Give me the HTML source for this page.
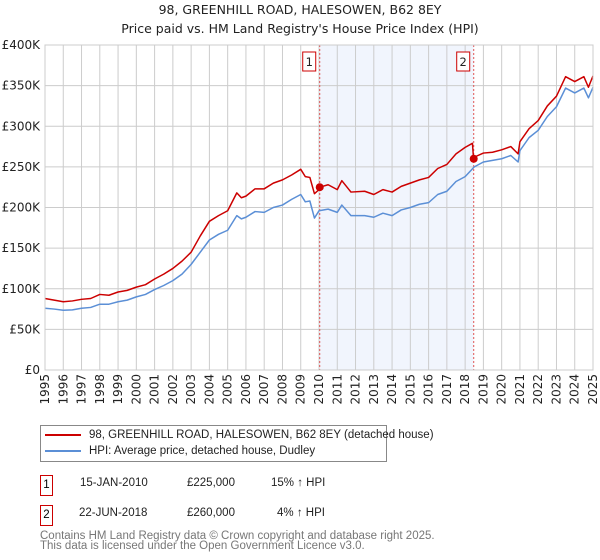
<!DOCTYPE html>
<html><head><meta charset="utf-8"><style>
body{margin:0;background:#fff;font-family:"Liberation Sans",sans-serif;}
#wrap{position:relative;width:600px;height:560px;overflow:hidden;}
.t{position:absolute;font-size:12px;color:#222;white-space:nowrap;font-family:"Liberation Sans",sans-serif;}
</style></head><body>
<div id="wrap">
<svg id="chart" width="600" height="420" style="position:absolute;left:0;top:0"></svg>
<div style="position:absolute;left:40px;top:425px;width:345px;height:35px;border:1px solid #888;">
 <div style="position:absolute;left:4px;top:3px;font-size:11.5px;color:#222;white-space:nowrap;font-family:'Liberation Sans',sans-serif"><span style="display:inline-block;width:36px;height:2px;background:#cc0000;vertical-align:middle;margin-right:8px"></span>98, GREENHILL ROAD, HALESOWEN, B62 8EY (detached house)</div>
 <div style="position:absolute;left:4px;top:19px;font-size:11.5px;color:#222;white-space:nowrap;font-family:'Liberation Sans',sans-serif"><span style="display:inline-block;width:36px;height:2px;background:#5b8fd6;vertical-align:middle;margin-right:8px"></span>HPI: Average price, detached house, Dudley</div>
</div>
<div style="position:absolute;left:40px;top:475px;width:11px;height:19px;border:1px solid #cc0000;font-size:11.5px;line-height:19px;text-align:center">1</div>
<div class="t" style="left:80px;top:477px;font-size:11.5px">15-JAN-2010</div>
<div class="t" style="left:187px;top:477px;font-size:11.5px">£225,000</div>
<div class="t" style="left:271px;top:477px;font-size:11.5px">15% ↑ HPI</div>
<div style="position:absolute;left:40px;top:505px;width:11px;height:19px;border:1px solid #cc0000;font-size:11.5px;line-height:19px;text-align:center">2</div>
<div class="t" style="left:79px;top:507px;font-size:11.5px">22-JUN-2018</div>
<div class="t" style="left:187px;top:507px;font-size:11.5px">£260,000</div>
<div class="t" style="left:277px;top:507px;font-size:11.5px">4% ↑ HPI</div>
<div class="t" style="left:40px;top:531px;color:#777;font-size:11.5px;line-height:10px">Contains HM Land Registry data © Crown copyright and database right 2025.<br>This data is licensed under the Open Government Licence v3.0.</div>
</div>
<script>
const years=[1995,1996,1997,1998,1999,2000,2001,2002,2003,2004,2005,2006,2007,2008,2009,2010,2011,2012,2013,2014,2015,2016,2017,2018,2019,2020,2021,2022,2023,2024,2025];
const yTicks=[0,50,100,150,200,250,300,350,400];
const yTickLabels=["£0","£50K","£100K","£150K","£200K","£250K","£300K","£350K","£400K"];
const hpiT=[1995,1995.5,1996,1996.5,1997,1997.5,1998,1998.5,1999,1999.5,2000,2000.5,2001,2001.5,2002,2002.5,2003,2003.5,2004,2004.5,2005,2005.5,2005.75,2006,2006.5,2007,2007.5,2008,2008.5,2009,2009.25,2009.5,2009.75,2010,2010.5,2011,2011.25,2011.75,2012.5,2013,2013.5,2014,2014.5,2015,2015.5,2016,2016.5,2017,2017.5,2018,2018.5,2019,2019.5,2020,2020.5,2020.9,2021,2021.5,2022,2022.5,2023,2023.5,2024,2024.5,2024.75,2025];
const hpiV=[76,75,73.5,74,76,77,81,81,84,86,90,93,99,104,110,118,130,145,160,167,172,190,186,188,195,194,200,203,210,216,207,208,187,196,198,194,203,190,190,188,193,190,197,200,204,206,216,220,232,238,250,256,258,260,264,256,270,286,295,312,324,347,341,347,335,348];
const ppT=[1995,1995.5,1996,1996.5,1997,1997.5,1998,1998.5,1999,1999.5,2000,2000.5,2001,2001.5,2002,2002.5,2003,2003.5,2004,2004.5,2005,2005.5,2005.75,2006,2006.5,2007,2007.5,2008,2008.5,2009,2009.25,2009.5,2009.75,2010,2010.04,2010.5,2011,2011.25,2011.75,2012.5,2013,2013.5,2014,2014.5,2015,2015.5,2016,2016.5,2017,2017.5,2018,2018.4,2018.46,2018.5,2019,2019.5,2020,2020.5,2020.9,2021,2021.5,2022,2022.5,2023,2023.5,2024,2024.5,2024.75,2025];
const ppV=[88,86,84,85,87,88,93,92,96,98,102,105,112,118,125,134,145,165,183,190,196,218,212,214,223,223,230,234,240,247,238,237,217,222,225,228,222,233,219,220,216,222,219,226,230,234,237,248,253,266,274,279,260,262,267,268,271,275,266,281,297,307,325,337,361,355,361,348,362];
const saleT=[2010.04,2018.47];
const saleV=[225,260];
const saleLabels=["1","2"];

const NS="http://www.w3.org/2000/svg";
const svg=document.getElementById('chart');
const L=45,R=593,T=45,B=370;
const xs=t=>L+(t-1995)/30*(R-L);
const ys=v=>B-v/400*(B-T);
function mk(tag,a){const e=document.createElementNS(NS,tag);for(const k in a)e.setAttribute(k,a[k]);svg.appendChild(e);return e;}
const sh=mk('rect',{x:xs(saleT[0]),y:T,width:xs(saleT[1])-xs(saleT[0]),height:B-T,fill:'#eef3fc',opacity:0.8});


years.forEach(y=>{
 const g=mk('line',{x1:xs(y),x2:xs(y),y1:T,y2:B,stroke:'#ccc','stroke-width':1});
 
 
 const tx=xs(y)+4,ty=B+4;
 const lb=mk('text',{x:tx,y:ty,transform:`rotate(-90 ${tx} ${ty})`,'text-anchor':'end','font-size':12,fill:'#222','font-family':'DejaVu Sans, Liberation Sans, sans-serif'});
 lb.textContent=y;
 
 
});
yTicks.forEach((v,i)=>{
 const g=mk('line',{x1:L,x2:R,y1:ys(v),y2:ys(v),stroke:'#ccc','stroke-width':1});
 
 
 const lb=mk('text',{x:L-5,y:ys(v)+4,'text-anchor':'end','font-size':12,fill:'#222','font-family':'DejaVu Sans, Liberation Sans, sans-serif'});
 lb.textContent=yTickLabels[i];
 
 
});
saleT.forEach((t,i)=>{
 const l=mk('line',{x1:xs(t),x2:xs(t),y1:T,y2:B,stroke:'#e05555','stroke-width':1,'stroke-dasharray':'2,2'});
 
 
 const bx=mk('rect',{x:xs(t)-17,y:52,width:13,height:19,fill:'#fff',stroke:'#cc0000','stroke-width':1});
 
 
 const tx=mk('text',{x:xs(t)-10.5,y:66,'text-anchor':'middle','font-size':11.5,fill:'#222','font-family':'DejaVu Sans, sans-serif'});
 tx.textContent=saleLabels[i];
 
 
});
const line=(T_,V,c,n)=>{const p=mk('polyline',{points:T_.map((t,i)=>xs(t)+','+ys(V[i])).join(' '),fill:'none',stroke:c,'stroke-width':1.5,'stroke-linejoin':'round'});
 
 };
line(hpiT,hpiV,'#5b8fd6','hpi-line');
line(ppT,ppV,'#cc0000','price-paid-line');
saleT.forEach((t,i)=>{
 const c=mk('circle',{cx:xs(t),cy:ys(saleV[i]),r:4,fill:'#cc0000'});
 
 
});
const ax=mk('rect',{x:L,y:T,width:R-L,height:B-T,fill:'none',stroke:'#ccc'});


[["98, GREENHILL ROAD, HALESOWEN, B62 8EY",14],["Price paid vs. HM Land Registry's House Price Index (HPI)",33]].forEach((s,i)=>{
 const t=mk('text',{x:300,y:s[1],'text-anchor':'middle','font-size':12.5,fill:'#222','font-family':'DejaVu Sans, Liberation Sans, sans-serif'});
 t.textContent=s[0];
 
 
});
</script>
</body></html>
